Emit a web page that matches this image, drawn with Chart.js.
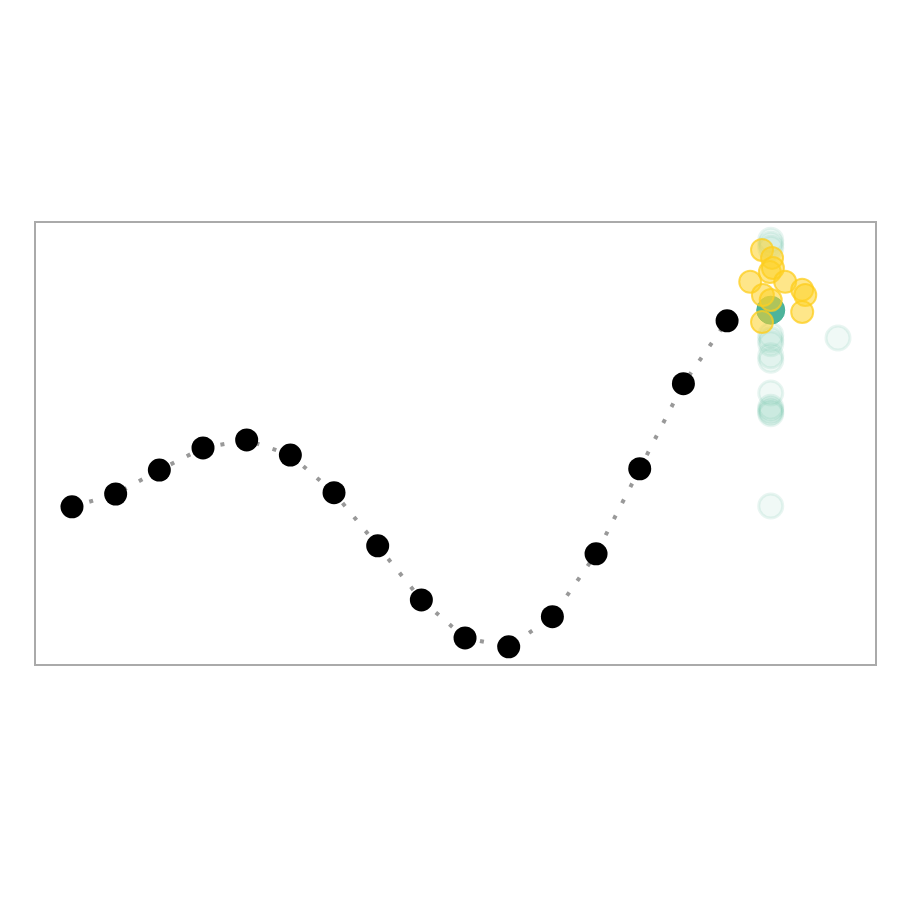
<!DOCTYPE html>
<html>
<head>
<meta charset="utf-8">
<script src="https://cdn.jsdelivr.net/npm/chart.js@4.4.1/dist/chart.umd.min.js"></script>
<style>
html,body{margin:0;padding:0;background:#fff;}
#wrap{width:900px;height:900px;}
</style>
</head>
<body>
<div id="wrap"><canvas id="c" width="900" height="900"></canvas></div>
<script>
// Data (x = step index, y = value on 0..100 scale)
const pathX = [0,1,2,3,4,5,6,7,8,9,10,11,12,13,14,15];
const pathY = [35.7,38.6,44.0,49.0,50.8,47.4,38.9,26.9,14.7,6.1,4.1,10.9,25.1,44.3,63.5,77.7];

const tealX = [16,16,16,16,16,16,16,16,16,16,16,16,16,16,17.54];
const tealY = [95.9,95.0,94.1,74.5,73.4,72.5,69.8,68.8,61.4,58.2,57.6,57.1,56.7,35.9,73.8];

const meanX = [16];
const meanY = [80.1];

const goldX = [15.80,16.03,15.98,16.05,15.53,16.33,16.72,16.79,15.82,16.0,16.72,15.80];
const goldY = [93.7,91.9,88.7,89.6,86.5,86.5,84.7,83.5,83.5,82.4,79.7,77.4];

const toPts = (xs, ys) => xs.map((x, i) => ({x: x, y: ys[i]}));

const frame = {
  id: 'frame',
  afterDraw(chart) {
    const a = chart.chartArea, ctx = chart.ctx;
    ctx.save();
    ctx.strokeStyle = '#aaaaaa';
    ctx.lineWidth = 2;
    ctx.strokeRect(a.left, a.top, a.right - a.left, a.bottom - a.top);
    ctx.restore();
  }
};

new Chart(document.getElementById('c'), {
  type: 'scatter',
  data: {
    datasets: [
      {
        data: toPts(goldX, goldY),
        order: 0,
        pointRadius: 11,
        pointBackgroundColor: 'rgba(253,210,40,0.55)',
        pointBorderColor: 'rgba(253,205,30,0.75)',
        pointBorderWidth: 2,
        showLine: false
      },
      {
        data: toPts(meanX, meanY),
        order: 1,
        pointRadius: 14,
        pointBackgroundColor: 'rgba(69,176,150,0.95)',
        pointBorderColor: 'rgba(69,176,150,0.95)',
        pointBorderWidth: 1,
        showLine: false
      },
      {
        data: toPts(tealX, tealY),
        order: 2,
        pointRadius: 12,
        pointBackgroundColor: 'rgba(110,195,165,0.10)',
        pointBorderColor: 'rgba(110,195,165,0.16)',
        pointBorderWidth: 3,
        showLine: false
      },
      {
        data: toPts(pathX, pathY),
        order: 3,
        showLine: true,
        borderColor: '#999999',
        borderWidth: 4,
        borderDash: [4, 14],
        pointRadius: 11.5,
        pointBackgroundColor: '#000000',
        pointBorderColor: '#000000',
        pointBorderWidth: 0,
        tension: 0
      }
    ]
  },
  options: {
    responsive: false,
    animation: false,
    devicePixelRatio: 1,
    layout: { padding: { left: 35, right: 24, top: 222, bottom: 235 } },
    plugins: { legend: { display: false }, tooltip: { enabled: false } },
    scales: {
      x: { type: 'linear', min: -0.847, max: 18.41, display: false },
      y: { type: 'linear', min: 0, max: 100, display: false }
    }
  },
  plugins: [frame]
});
</script>
</body>
</html>
